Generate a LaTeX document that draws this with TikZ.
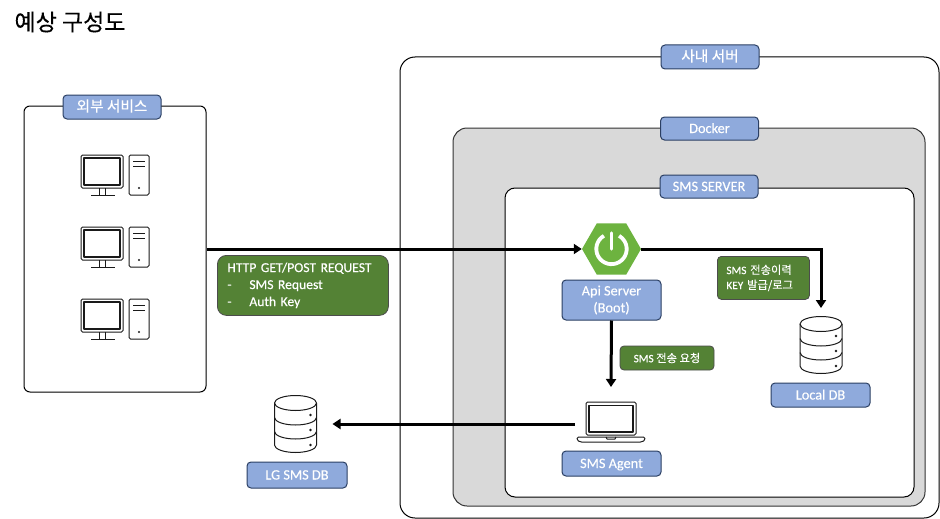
\documentclass[tikz,border=0pt]{standalone}
\usepackage{fontspec}
\setmainfont{Carlito}
\newfontfamily\krfont{Noto Sans CJK KR}
\newfontfamily\labelfont[FakeBold=0.3]{Carlito}
\newfontfamily\krlabelfont[FakeBold=0.2]{Noto Sans CJK KR}
\usetikzlibrary{arrows.meta,calc,positioning,shapes.geometric}
\definecolor{tagblue}{HTML}{8FAADC}
\definecolor{tagedge}{HTML}{2B3F63}
\definecolor{notegreen}{HTML}{548235}
\definecolor{dockergray}{HTML}{D9D9D9}
\definecolor{springgreen}{HTML}{6DB33F}
\definecolor{iconblack}{HTML}{1A1A1A}
\tikzset{
  zone/.style={
    rectangle,
    draw=black,
    fill=white,
    line width=1pt,
    inner sep=0pt
  },
  tag/.style={
    rectangle,
    rounded corners=4pt,
    draw=tagedge,
    fill=tagblue,
    text=white,
    align=center,
    line width=1pt,
    inner sep=0pt,
    minimum width=98pt,
    minimum height=24pt,
    font=\labelfont\fontsize{14.3}{17}\selectfont
  },
  tagline/.style={
    tag,
    text height=11pt,
    text depth=2pt
  },
  note/.style={
    rectangle,
    rounded corners=4pt,
    draw=black!70,
    fill=notegreen,
    text=white,
    align=left,
    line width=.8pt,
    inner sep=0pt,
    font=\labelfont\fontsize{13.6}{17}\selectfont
  },
  arrow/.style={
    -{Triangle[length=8pt,width=10pt]},
    line width=3pt,
    black
  },
  iconline/.style={
    draw=iconblack,
    line width=1pt,
    line join=round
  },
  desktop/.pic={
    \draw[iconline,rounded corners=1.5pt] (-30,-20) rectangle (12,13);
    \draw[iconline,line width=1.2pt] (-27,-17) rectangle (9,10);
    \draw[iconline] (-12,13) -- (-12,20) (-6,13) -- (-6,20) (-20,20.5) -- (4,20.5);
    \draw[iconline,rounded corners=1.5pt] (18,-20) rectangle (38,20);
    \draw[iconline] (22,-14) -- (34,-14) (22,-9) -- (34,-9);
    \fill[iconblack] (28,13) circle (1.1);
  },
  dbicon/.pic={
    \draw[iconline,fill=white] (-21,-21) -- (-21,21) arc[start angle=180,end angle=360,x radius=21,y radius=-7.5] -- (21,-21);
    \draw[iconline] (-21,-21) arc[start angle=180,end angle=540,x radius=21,y radius=7.5];
    \draw[iconline] (-21,-6.5) arc[start angle=180,end angle=360,x radius=21,y radius=-7.5];
    \draw[iconline] (-21,7.5) arc[start angle=180,end angle=360,x radius=21,y radius=-7.5];
    \fill[iconblack] (15,-9) circle (1.3) (15,6) circle (1.3) (15,21) circle (1.3);
    \coordinate (-north) at (0,-37);
    \coordinate (-east) at (37,0);
  },
  laptop/.pic={
    \draw[iconline,rounded corners=1.5pt] (-25,-22) -- (-25,11) -- (25,11) -- (25,-22) -- cycle;
    \draw[iconline,line width=1.2pt] (-22,-18.5) rectangle (22,8);
    \draw[iconline,rounded corners=1.5pt] (-34,13) -- (34,13) -- (34,16) -- (31,18) -- (-31,18) -- (-34,16) -- cycle;
    \draw[iconline] (-5,13) -- (-4,15) -- (4,15) -- (5,13);
    \coordinate (-north) at (0,-37);
    \coordinate (-west) at (-36,0);
  }
}
\begin{document}
\begin{tikzpicture}[x=1pt,y=-1pt]
\useasboundingbox (0,0) rectangle (940,519);
\node[anchor=west,font=\krlabelfont\fontsize{23}{27}\selectfont] (title) at (11,22) {예상 구성도};

% 영역
\node[zone,rounded corners=15pt,minimum width=539pt,minimum height=461pt] (company) at (669.5,287.5) {};
\node[zone,rounded corners=14pt,fill=dockergray,draw=black!80,minimum width=472pt,minimum height=378pt] (docker) at (689,317) {};
\node[zone,rounded corners=10pt,minimum width=409pt,minimum height=309pt] (smsserver) at (709.5,342.5) {};
\node[zone,rounded corners=6pt,minimum width=182pt,minimum height=286pt] (external) at (115,249) {};

\node[tagline,font=\krlabelfont\fontsize{14.7}{17}\selectfont] (companytag) at (710,57) {사내 서버};
\node[tagline,minimum height=23pt] (dockertag) at (709.5,128.5) {Docker};
\node[tagline,minimum height=23pt] (smsservertag) at (709,186.5) {SMS SERVER};
\node[tagline,font=\krlabelfont\fontsize{14.7}{17}\selectfont] (externaltag) at (112,107) {외부 서비스};

% 외부 서비스
\pic (pca) at (111,175) {desktop};
\pic (pcb) at (111,247) {desktop};
\pic (pcc) at (111,319) {desktop};

% SMS SERVER
\node[regular polygon,regular polygon sides=6,fill=springgreen,minimum size=59pt,inner sep=0pt] (spring) at (611.5,249) {};
\draw[white,line width=3.8pt] ($(spring)+(-7.6,-13.2)$) arc[start angle=240,end angle=-60,radius=15.2];
\draw[white,line width=3.4pt,line cap=round] ($(spring)+(0,-16)$) -- ($(spring)+(0,0)$);
\node[tag,minimum width=99pt,minimum height=40pt] (apiserver) at (611.5,300) {Api Server\\(Boot)};
\pic (agent) at (611,424) {laptop};
\node[tagline,minimum width=99pt,minimum height=25pt] (agenttag) at (611.5,463.5) {SMS Agent};
\pic (localdb) at (821,345) {dbicon};
\node[tagline,minimum width=99pt] (localdbtag) at (820.5,395) {Local DB};

\pic (lgdb) at (295.5,424) {dbicon};
\node[tagline,minimum width=100pt,minimum height=26pt] (lgdbtag) at (297,475) {LG SMS DB};

% 설명
\node[note,rounded corners=9pt,anchor=north west,minimum width=171pt,minimum height=60pt,text width=151pt] (requestnote) at (217,255) {HTTP GET/POST REQUEST\\\makebox[22pt][l]{-}SMS Request\\\makebox[22pt][l]{-}Auth Key};
\node[note,minimum width=94pt,minimum height=24pt,align=center,font=\labelfont\fontsize{11.3}{14}\selectfont] (sendnote) at (667,358) {SMS {\krlabelfont 전송 요청}};
\node[note,anchor=north west,minimum width=92pt,minimum height=43pt,text width=74pt,font=\labelfont\fontsize{11.3}{15}\selectfont] (lognote) at (717,256) {SMS {\krlabelfont 전송이력}\\KEY {\krlabelfont 발급/로그}};

% 연결
\draw[arrow] (external.east |- spring.west) -- (spring.west);
\draw[arrow] (spring.east) -| (localdb-north);
\draw[arrow] (apiserver.south) -- (agent-north);
\draw[arrow] (agent-west) -- (lgdb-east);
\end{tikzpicture}
\end{document}
